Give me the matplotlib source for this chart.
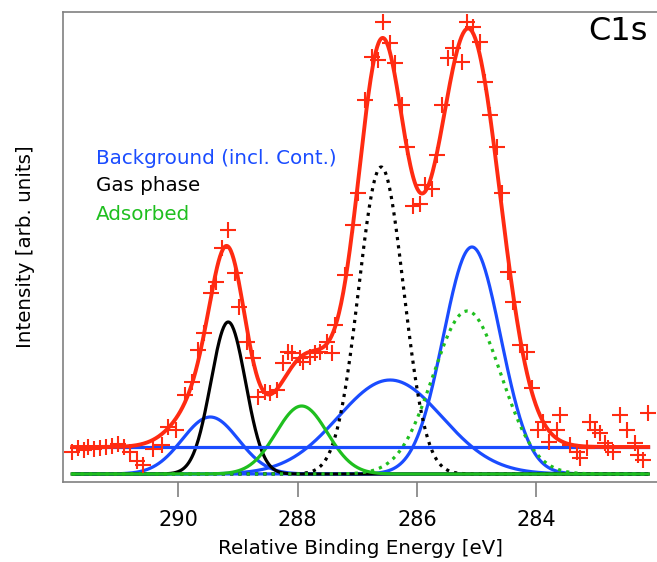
import numpy as np
import matplotlib
matplotlib.use("Agg")
import matplotlib.pyplot as plt

# Measured C1s spectrum (relative binding energy in eV, intensity in arb. units)
energy = [291.77, 291.67, 291.57, 291.51, 291.41, 291.31, 291.21, 291.10, 291.00, 290.90,
          290.80, 290.69, 290.59, 290.42, 290.27, 290.17, 290.04, 289.88, 289.77, 289.67,
          289.56, 289.45, 289.36, 289.26, 289.16, 289.05, 288.98, 288.85, 288.74, 288.66,
          288.54, 288.46, 288.34, 288.24, 288.16, 288.09, 287.96, 287.91, 287.79, 287.71,
          287.62, 287.51, 287.42, 287.37, 287.21, 287.07, 286.99, 286.87, 286.75, 286.65,
          286.57, 286.45, 286.37, 286.25, 286.17, 286.07, 285.95, 285.87, 285.75, 285.67,
          285.58, 285.48, 285.40, 285.25, 285.16, 285.06, 284.95, 284.86, 284.78, 284.66,
          284.58, 284.48, 284.39, 284.28, 284.16, 284.08, 283.97, 283.89, 283.79, 283.66,
          283.61, 283.44, 283.32, 283.27, 283.15, 283.10, 283.02, 282.94, 282.85, 282.80,
          282.72, 282.60, 282.49, 282.35, 282.30, 282.22, 282.13]
counts = [22, 26, 24, 27, 25, 26, 27, 28, 30, 27,
          22, 13, 9, 25, 29, 47, 44, 79, 92, 124,
          141, 181, 192, 226, 244, 201, 167, 132, 116, 77,
          82, 81, 84, 111, 122, 121, 116, 112, 117, 121,
          122, 132, 121, 149, 199, 249, 281, 374, 417, 414,
          452, 431, 411, 369, 327, 268, 270, 289, 285, 319,
          369, 416, 426, 412, 452, 447, 432, 392, 359, 327,
          281, 202, 172, 129, 122, 86, 44, 52, 32, 44,
          59, 29, 22, 16, 26, 52, 44, 41, 31, 26,
          22, 59, 44, 31, 19, 14, 61]

# Fitted components: Gaussian peaks (centre eV, height, sigma eV)
background_level = 27
bg_centers = [289.46, 286.45, 285.08]
bg_heights = [57, 94, 227]
bg_sigmas = [0.47, 0.87, 0.48]

gas_centers = [289.16, 286.60]
gas_heights = [152, 307]
gas_sigmas = [0.29, 0.375]

ads_centers = [287.93, 285.16]
ads_heights = [68, 163]
ads_sigmas = [0.43, 0.57]

RED = "#ff2b12"
BLUE = "#1a4cff"
GREEN = "#1fbf1f"
GRAY = "#808080"


def gauss(x, c, h, s):
    return h * np.exp(-(x - c) ** 2 / (2 * s ** 2))


x = np.linspace(max(energy), min(energy), 800)

fig = plt.figure(figsize=(6.57, 5.62), dpi=100)
ax = fig.add_axes([63 / 657, 80 / 562, 1 - 63 / 657, 470 / 562])

total = np.full_like(x, background_level, dtype=float)

# Background peaks (blue, solid)
for c, h, s in zip(bg_centers, bg_heights, bg_sigmas):
    y = gauss(x, c, h, s)
    total += y
    ax.plot(x, y, color=BLUE, lw=2.3, zorder=2, solid_capstyle="butt")

# Gas phase: solid for the first peak, dotted for the second
for i, (c, h, s) in enumerate(zip(gas_centers, gas_heights, gas_sigmas)):
    y = gauss(x, c, h, s)
    total += y
    ls = "-" if i == 0 else (0, (1, 1.6))
    ax.plot(x, y, color="black", lw=2.3, ls=ls, zorder=2.2)

# Adsorbed: solid for the first peak, dotted for the second
for i, (c, h, s) in enumerate(zip(ads_centers, ads_heights, ads_sigmas)):
    y = gauss(x, c, h, s)
    total += y
    if i == 0:
        ax.plot(x, y, color=GREEN, lw=2.3, zorder=2.6)
    else:
        ax.plot(x, y, color=GREEN, lw=2.3, ls=(0, (1, 1.6)), zorder=2.4)

# Constant background line
ax.plot(x, np.full_like(x, background_level, dtype=float), color=BLUE, lw=2.3, zorder=3)

# Total fit and data
ax.plot(x, total, color=RED, lw=2.8, zorder=4)
ax.plot(energy, counts, ls="none", marker="+", ms=12, mew=1.5, color=RED, zorder=5)

ax.set_xlim(291.925, 281.983)
ax.set_ylim(-8, 462)

for side in ["left", "top", "bottom"]:
    ax.spines[side].set_color(GRAY)
    ax.spines[side].set_linewidth(1.2)
ax.spines["right"].set_visible(False)

ax.set_xticks([290, 288, 286, 284])
ax.set_xticklabels(["290", "288", "286", "284"])
ax.tick_params(axis="x", direction="out", length=11, width=1.2, color=GRAY,
               labelsize=15, pad=9)
ax.set_yticks([])

ax.set_xlabel("Relative Binding Energy [eV]", fontsize=14.3, labelpad=7)
ax.set_ylabel("Intensity [arb. units]", fontsize=14.3, labelpad=20)

ax.text(0.055, 0.689, "Background (incl. Cont.)", color=BLUE, fontsize=14.3,
        transform=ax.transAxes, va="center", ha="left")
ax.text(0.055, 0.630, "Gas phase", color="black", fontsize=14.3,
        transform=ax.transAxes, va="center", ha="left")
ax.text(0.055, 0.570, "Adsorbed", color=GREEN, fontsize=14.3,
        transform=ax.transAxes, va="center", ha="left")

ax.text(0.985, 0.958, "C1s", color="black", fontsize=23,
        transform=ax.transAxes, va="center", ha="right")

fig.savefig("out.png", dpi=100)
